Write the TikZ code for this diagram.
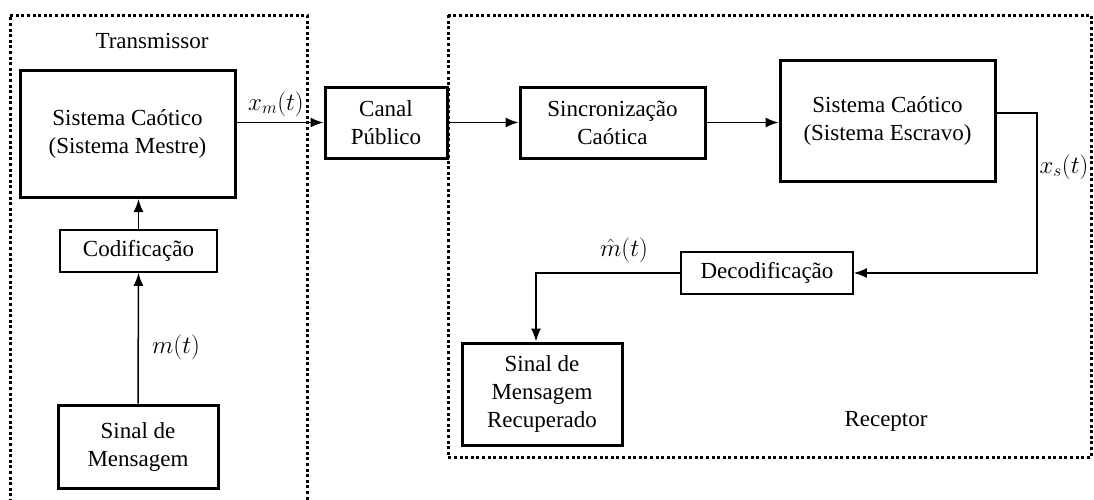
\documentclass[tikz,border=0pt]{standalone}
\usepackage{fontspec}
\setmainfont{Liberation Serif}
\newfontfamily\blockfont{Liberation Serif}
\usetikzlibrary{arrows.meta,calc}
\tikzset{
  txt/.style={font=\blockfont\fontsize{23}{28}\selectfont},
  blk/.style={draw, line width=3pt, align=center, inner sep=2pt, txt},
  thinblk/.style={draw, line width=1.6pt, align=center, inner sep=2pt, txt},
  arr/.style={line width=1.5pt, -{Latex[length=13pt,width=10pt]}},
  region/.style={line width=3pt, dash pattern=on 3pt off 2.6pt},
  lbl/.style={txt, inner sep=0pt},
}
\begin{document}
\begin{tikzpicture}[x=1pt,y=-1pt]
\useasboundingbox (0,0) rectangle (1094,499);

% transmitter and receiver regions
\draw[region] (10,502) -- (10,15) -- (307,15) -- (307,502);
\draw[region] (448,15) rectangle (1091,457);
\node[lbl] (ttx) at (152,41) {Transmissor};
\node[lbl] (trx) at (886,421) {Receptor};

% transmitter blocks
\node[blk, minimum width=215pt, minimum height=127pt] (mestre) at (127.5,134)
  {Sistema Caótico\\(Sistema Mestre)};
\node[thinblk, minimum width=157pt, minimum height=42pt] (cod) at (138.5,251) {Codificação};
\node[blk, minimum width=160pt, minimum height=83pt] (msg) at (138,446.5) {Sinal de\\Mensagem};

% channel and receiver blocks
\node[blk, minimum width=122pt, minimum height=71pt] (canal) at (386,122.5) {Canal\\Público};
\node[blk, minimum width=185pt, minimum height=71pt] (sinc) at (612.5,122.5) {Sincronização\\Caótica};
\node[blk, minimum width=215pt, minimum height=121pt] (escravo) at (887.5,121)
  {Sistema Caótico\\(Sistema Escravo)};
\node[thinblk, minimum width=172pt, minimum height=42pt] (decod) at (767,273) {Decodificação};
\node[blk, minimum width=160pt, minimum height=102pt] (recup) at (542,394)
  {Sinal de\\Mensagem\\Recuperado};

% connections
\draw[arr] (msg.north) -- (cod.south);
\draw[arr] (cod.north) -- (cod.north |- mestre.south);
\draw[arr] (mestre.east |- canal.west) -- (canal.west);
\draw[arr] (canal.east) -- (sinc.west);
\draw[arr] (sinc.east) -- (sinc.east -| escravo.west);
\coordinate (turn) at (1037,113);
\draw[arr] (escravo.east |- turn) -- (turn) |- (decod.east);
\coordinate (drop) at (536,273);
\draw[arr] (decod.west) -- (drop) -- (drop |- recup.north);

% signal labels
\node[lbl] (lxm) at (276,104) {$x_m(t)$};
\node[lbl] (lm) at (176,347) {$m(t)$};
\node[lbl] (lxs) at (1064,167) {$x_s(t)$};
\node[lbl] (lmh) at (624,250) {$\hat{m}(t)$};
\end{tikzpicture}
\end{document}
